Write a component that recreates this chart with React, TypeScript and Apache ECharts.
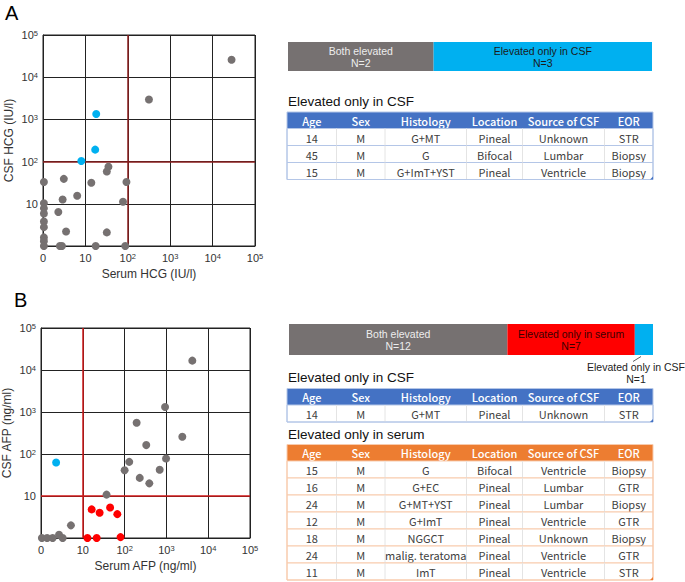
import React, { useEffect, useRef } from 'react';
import * as echarts from 'echarts';

// ---------- data ----------
const hcgGray: number[][] = [
  [28000, 26000], [315, 2950], [35, 76], [32, 58], [93, 33], [13.8, 31.6], [3.1, 39],
  [77, 11.2], [6.4, 15.5], [2.9, 12.7], [2.3, 6.4], [3.5, 2.2], [32, 2.1],
  [2.5, 1], [2.8, 1], [17.5, 1], [87, 1],
  [1.05, 33], [1.05, 10.3], [1.05, 7.8], [1.05, 5.9], [1.05, 3.8], [1.05, 2.8], [1.05, 1.6], [1.05, 1.3], [1.05, 1],
];
const hcgBlue: number[][] = [[18, 1340], [17, 192], [8, 103]];

const afpGray: number[][] = [
  [4170, 16700], [930, 1310], [194, 555], [2400, 257], [330, 163], [980, 78], [129, 65],
  [100, 41], [690, 42], [230, 27], [390, 20], [37, 10.8], [5.2, 2.0],
  [1.05, 1], [1.4, 1], [1.9, 1], [2.7, 1.2], [3.3, 1],
];
const afpBlue: number[][] = [[2.3, 63]];
const afpRed: number[][] = [
  [16.3, 4.8], [25.3, 4.0], [45, 5.3], [67, 3.7], [12.9, 1], [21.5, 1], [80, 1.05],
];

const hcgCutoff = 100;
const afpCutoffX = 10;
const afpCutoffY = 10;

const barNamesA = ['Both elevated', 'Elevated only in CSF'];
const barValuesA = [2, 3];
const barNamesB = ['Both elevated', 'Elevated only in serum', 'Elevated only in CSF'];
const barValuesB = [12, 7, 1];

const tableHeader = ['Age', 'Sex', 'Histology', 'Location', 'Source of CSF', 'EOR'];
const tableA: string[][] = [
  ['14', 'M', 'G+MT', 'Pineal', 'Unknown', 'STR'],
  ['45', 'M', 'G', 'Bifocal', 'Lumbar', 'Biopsy'],
  ['15', 'M', 'G+ImT+YST', 'Pineal', 'Ventricle', 'Biopsy'],
];
const tableBcsf: string[][] = [
  ['14', 'M', 'G+MT', 'Pineal', 'Unknown', 'STR'],
];
const tableBserum: string[][] = [
  ['15', 'M', 'G', 'Bifocal', 'Ventricle', 'Biopsy'],
  ['16', 'M', 'G+EC', 'Pineal', 'Lumbar', 'GTR'],
  ['24', 'M', 'G+MT+YST', 'Pineal', 'Lumbar', 'Biopsy'],
  ['12', 'M', 'G+ImT', 'Pineal', 'Ventricle', 'GTR'],
  ['18', 'M', 'NGGCT', 'Pineal', 'Unknown', 'Biopsy'],
  ['24', 'M', 'malig. teratoma', 'Pineal', 'Ventricle', 'GTR'],
  ['11', 'M', 'ImT', 'Pineal', 'Ventricle', 'STR'],
];

// ---------- styles ----------
const GRAY = '#767171';
const BLUE = '#00B0F0';
const RED = '#FF0000';
const FONT = 'Liberation Sans, Arial, sans-serif';
const TFONT = 'Noto Sans CJK JP, Noto Sans, sans-serif';
const colEdges = [287, 336.5, 385, 466.5, 522.5, 604.5, 653];

function tickFmt(isX: boolean) {
  return (v: number) => {
    const e = Math.round(Math.log10(v));
    if (e === 0) return isX ? '0' : '';
    if (e === 1) return '10';
    return '10{sup|' + e + '}';
  };
}

function logAxis(grid: number, isX: boolean, name: string) {
  return {
    type: 'log',
    gridIndex: grid,
    logBase: 10,
    min: 1,
    max: 100000,
    name,
    nameLocation: 'middle',
    nameGap: isX ? 22 : 28,
    nameTextStyle: { fontFamily: FONT, fontSize: 12, color: '#333' },
    axisLine: { show: true, lineStyle: { color: '#222', width: 1 } },
    axisTick: { show: false },
    splitLine: { show: true, lineStyle: { color: '#222', width: 1 } },
    minorSplitLine: { show: false },
    axisLabel: {
      formatter: tickFmt(isX),
      fontFamily: FONT,
      fontSize: 11,
      color: '#333',
      margin: isX ? 6 : 5,
      rich: {
        sup: { fontSize: 7.5, verticalAlign: 'top', lineHeight: 8, color: '#333', fontFamily: FONT },
      },
    },
  };
}

function markLines(x: number, y: number, color: string) {
  return {
    silent: true,
    symbol: ['none', 'none'],
    label: { show: false },
    lineStyle: { color, width: 1.5, type: 'solid' },
    data: [{ xAxis: x }, { yAxis: y }],
  };
}

function scatter(grid: number, data: number[][], color: string, extra?: any) {
  return Object.assign({
    type: 'scatter',
    xAxisIndex: grid,
    yAxisIndex: grid,
    data,
    symbolSize: 8,
    clip: false,
    itemStyle: { color, opacity: 1 },
    z: 5,
  }, extra || {});
}

function barSeries(grid: number, names: string[], values: number[], colors: string[], labelColors: string[], hideLast: boolean) {
  return names.map((n, i) => ({
    type: 'bar',
    name: n,
    xAxisIndex: grid,
    yAxisIndex: grid,
    stack: 'bar' + grid,
    barWidth: '100%',
    data: [values[i]],
    itemStyle: { color: colors[i] },
    label: {
      show: !(hideLast && i === names.length - 1),
      position: 'inside',
      formatter: n + '\nN=' + values[i],
      color: labelColors[i],
      fontFamily: FONT,
      fontSize: 10.5,
      lineHeight: 12,
    },
  }));
}

function tableGraphics(top: number, rows: string[][], headColor: string, lineColor: string) {
  const els: any[] = [];
  const W = colEdges[colEdges.length - 1] - colEdges[0];
  const hH = 16.5;
  const rH = 17;
  els.push({ type: 'rect', shape: { x: colEdges[0], y: top, width: W, height: hH }, style: { fill: headColor } });
  tableHeader.forEach((h, c) => {
    const cx = (colEdges[c] + colEdges[c + 1]) / 2;
    els.push({
      type: 'text', x: cx, y: top + hH / 2 + 0.5,
      style: { text: h, fill: '#ffffff', fontSize: 11, fontFamily: TFONT, fontWeight: 500, textAlign: 'center', textVerticalAlign: 'middle', align: 'center', verticalAlign: 'middle' },
    });
  });
  rows.forEach((r, i) => {
    const y0 = top + hH + rH * i;
    els.push({ type: 'rect', shape: { x: colEdges[0], y: y0, width: W, height: rH }, style: { fill: '#ffffff', stroke: lineColor, lineWidth: 1 } });
    for (let c = 1; c < colEdges.length - 1; c++) {
      els.push({ type: 'line', shape: { x1: colEdges[c], y1: y0, x2: colEdges[c], y2: y0 + rH }, style: { stroke: '#E4E4E4', lineWidth: 1 } });
    }
    r.forEach((cell, c) => {
      const cx = (colEdges[c] + colEdges[c + 1]) / 2;
      els.push({
        type: 'text', x: cx, y: y0 + rH / 2 + 0.5,
        style: { text: cell, fill: '#404040', fontSize: 11, fontFamily: TFONT, textAlign: 'center', textVerticalAlign: 'middle', align: 'center', verticalAlign: 'middle' },
      });
    });
  });
  const bot = top + hH + rH * rows.length;
  els.push({ type: 'rect', shape: { x: colEdges[0], y: top, width: W, height: bot - top }, style: { fill: 'none', stroke: lineColor, lineWidth: 1 } });
  const R = colEdges[colEdges.length - 1];
  els.push({ type: 'polygon', shape: { points: [[R, bot - 3], [R, bot], [R - 3, bot]] }, style: { fill: headColor } });
  return els;
}

function titleText(x: number, y: number, text: string, size: number) {
  return {
    type: 'text', x, y,
    style: { text, fill: '#111', fontSize: size, fontFamily: FONT, textAlign: 'left', textVerticalAlign: 'middle', align: 'left', verticalAlign: 'middle' },
  };
}

export default function App() {
  const ref = useRef<HTMLDivElement>(null);
  useEffect(() => {
    if (!ref.current) return;
    const chart = echarts.init(ref.current, null, { renderer: 'svg' });
    const graphics: any[] = [
      { type: 'text', x: 5, y: 3, style: { text: 'A', fill: '#000', fontSize: 20, fontFamily: FONT, textAlign: 'left', textVerticalAlign: 'top', align: 'left', verticalAlign: 'top' } },
      { type: 'text', x: 14, y: 290, style: { text: 'B', fill: '#000', fontSize: 20, fontFamily: FONT, textAlign: 'left', textVerticalAlign: 'top', align: 'left', verticalAlign: 'top' } },
      titleText(288, 101, 'Elevated only in CSF', 13.5),
      titleText(288, 377, 'Elevated only in CSF', 13.5),
      titleText(288, 434, 'Elevated only in serum', 13.5),
      ...tableGraphics(112, tableA, '#4472C4', '#B4C6E7'),
      ...tableGraphics(388.5, tableBcsf, '#4472C4', '#B4C6E7'),
      ...tableGraphics(444.5, tableBserum, '#ED7D31', '#F8CBAD'),
      { type: 'line', shape: { x1: 641, y1: 356.5, x2: 633, y2: 361.5 }, style: { stroke: '#333', lineWidth: 0.8 } },
      {
        type: 'text', x: 636, y: 373,
        style: { text: barNamesB[2] + '\nN=' + barValuesB[2], fill: '#222', fontSize: 10.5, lineHeight: 12, fontFamily: FONT, textAlign: 'center', textVerticalAlign: 'middle', align: 'center', verticalAlign: 'middle' },
      },
    ];
    const option: any = {
      animation: false,
      backgroundColor: '#ffffff',
      grid: [
        { left: 43, top: 35, width: 212, height: 211, show: true, borderColor: '#222', borderWidth: 1, backgroundColor: 'transparent' },
        { left: 40, top: 328, width: 210, height: 210, show: true, borderColor: '#222', borderWidth: 1, backgroundColor: 'transparent' },
        { left: 288, top: 42, width: 364, height: 29 },
        { left: 289, top: 324, width: 364, height: 31 },
      ],
      xAxis: [
        logAxis(0, true, 'Serum HCG (IU/l)'),
        logAxis(1, true, 'Serum AFP (ng/ml)'),
        { type: 'value', gridIndex: 2, min: 0, max: barValuesA.reduce((a, b) => a + b, 0), show: false },
        { type: 'value', gridIndex: 3, min: 0, max: barValuesB.reduce((a, b) => a + b, 0), show: false },
      ],
      yAxis: [
        logAxis(0, false, 'CSF HCG (IU/l)'),
        logAxis(1, false, 'CSF AFP (ng/ml)'),
        { type: 'category', gridIndex: 2, data: ['A'], show: false },
        { type: 'category', gridIndex: 3, data: ['B'], show: false },
      ],
      series: [
        scatter(0, hcgGray, GRAY, { markLine: markLines(hcgCutoff, hcgCutoff, '#8B1E1E') }),
        scatter(0, hcgBlue, BLUE),
        scatter(1, afpGray, GRAY, { markLine: markLines(afpCutoffX, afpCutoffY, '#D01818') }),
        scatter(1, afpBlue, BLUE),
        scatter(1, afpRed, RED),
        ...barSeries(2, barNamesA, barValuesA, [GRAY, BLUE], ['#EDEDED', '#1a1a1a'], false),
        ...barSeries(3, barNamesB, barValuesB, [GRAY, RED, BLUE], ['#EDEDED', '#3a0000', '#1a1a1a'], true),
      ],
      graphic: graphics,
    };
    chart.setOption(option);
    return () => chart.dispose();
  }, []);
  return <div ref={ref} style={{ position: 'absolute', left: 0, top: 0, width: 685, height: 582 }} />;
}
